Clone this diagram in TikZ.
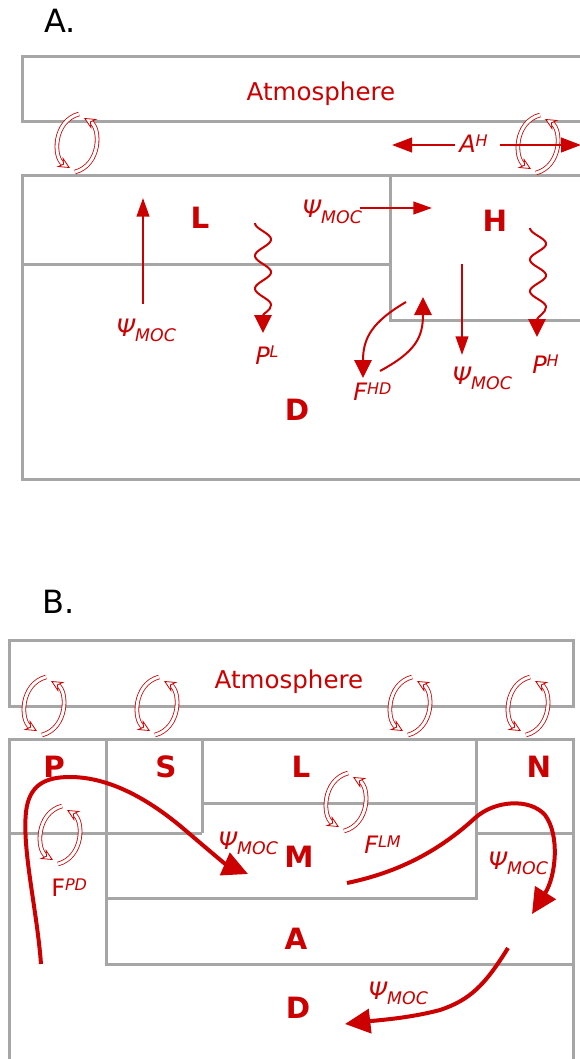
\documentclass[tikz,border=0pt]{standalone}
\usepackage{fontspec}
\setmainfont{DejaVu Sans}
\usetikzlibrary{arrows.meta}
\definecolor{dred}{RGB}{204,0,0}
\definecolor{lgray}{RGB}{166,166,166}
\newcommand{\fs}[1]{\fontsize{#1}{#1}\selectfont}
\newcommand{\PsiMOC}{{\itshape\fs{18pt}Ψ\raisebox{-3.8pt}{\fs{13pt}MOC}}}
\newcommand{\SupLab}[3]{{\fs{18pt}#1\raisebox{#3}{\itshape\fs{12pt}#2}}}
\tikzset{
  box/.style={draw=lgray, line width=2.25pt},
  lbl/.style={text=dred, inner sep=0pt},
  big/.style={lbl, font=\bfseries\fs{22pt}},
  panel/.style={inner sep=0pt, font=\fs{24pt}},
  arrS/.style={draw=dred, line width=1.5pt, -{Triangle[length=14pt,width=9.5pt]}},
  arrW/.style={draw=dred, line width=1.5pt, -{Triangle[length=13.5pt,width=13pt]}},
  arrA/.style={draw=dred, line width=1.5pt, -{Triangle[length=15pt,width=11pt]}},
  arrT/.style={draw=dred, line width=3pt, -{Triangle[length=19pt,width=18pt]}},
  exarc/.style={draw=dred, line width=0.6pt, double=white, double distance=2.2pt,
     -{Stealth[open, fill=white, length=9pt, width=8.5pt, inset=3pt]}},
  exch/.pic={
    \draw[exarc] (2,-29) .. controls (-24,-22) and (-24,15) .. (-7,25);
    \draw[exarc] (-2,29) .. controls (24,22) and (24,-15) .. (7,-25);
  }
}
\begin{document}
\begin{tikzpicture}[x=0.75pt, y=-0.75pt]
\useasboundingbox (0,0) rectangle (580,1059);

% ================= Panel A =================
\node[panel, anchor=base west] (labA) at (44,33) {A.};
\draw[box] (22,57) rectangle (620,122);
\node[lbl, font=\fs{18.4pt}, anchor=base] (atmA) at (321,101) {Atmosphere};
\draw[box] (22,176) rectangle (620,479);
\draw[box] (22,264) -- (390,264);
\draw[box] (390,176) -- (390,320) -- (620,320);

\pic at (77,143) {exch};
\pic at (538,144) {exch};

% A^H
\node[lbl, anchor=base west, font=\itshape] (AH) at (459,153) {\SupLab{A}{H}{5pt}};
\coordinate (ahL0) at (455,145);
\coordinate (ahL) at (392,145);
\coordinate (ahR0) at (500,145);
\coordinate (ahR) at (581,145);
\draw[arrA] (ahL0) -- (ahL);
\draw[arrA] (ahR0) -- (ahR);

\node[big] (L) at (200,218) {L};
\node[big] (H) at (495,221) {H};
\node[big] (D) at (297,410) {D};

% Psi up
\node[lbl, anchor=base west] (psi1) at (116,336) {\PsiMOC};
\coordinate (u0) at (143,304);
\coordinate (u1) at (143,198);
\draw[arrS] (u0) -- (u1);

% Psi right
\node[lbl, anchor=base west] (psi2) at (302,218) {\PsiMOC};
\coordinate (r0) at (360,208);
\coordinate (r1) at (432,208);
\draw[arrS] (r0) -- (r1);

% Psi down
\node[lbl, anchor=base west] (psi3) at (452,384) {\PsiMOC};
\coordinate (d0) at (462,264);
\coordinate (d1) at (462,355);
\draw[arrS] (d0) -- (d1);

% P^L wavy
\node[lbl, anchor=base west, font=\itshape] (PL) at (255,364) {\SupLab{P}{L}{5pt}};
\draw[arrW] plot[domain=0:5, samples=90, variable=\t] ({263-8*cos(\t*180)}, {223+16.4*\t})
   .. controls (271,311) and (263,313) .. (263,333);

% P^H wavy
\node[lbl, anchor=base west, font=\itshape] (PH) at (532,373) {\SupLab{P}{H}{5pt}};
\draw[arrW] plot[domain=0:5, samples=90, variable=\t] ({538-8*cos(\t*180)}, {228+15.8*\t})
   .. controls (546,313) and (537,317) .. (537,337);

% F^HD
\node[lbl, anchor=base west, font=\itshape] (FHD) at (353,400) {\SupLab{F}{HD}{4pt}};
\coordinate (f1a) at (406,302);
\coordinate (f1b) at (363,378);
\coordinate (f2a) at (380,371);
\coordinate (f2b) at (423,297);
\draw[arrW] (f1a) .. controls (372,322) and (363,338) .. (f1b);
\draw[arrW] (f2a) .. controls (415,352) and (423,338) .. (f2b);

% ================= Panel B =================
\node[panel, anchor=base west] (labB) at (42,613) {B.};
\draw[box] (9,640) rectangle (573,706);
\node[lbl, font=\fs{18.4pt}, anchor=base] (atmB) at (289,688) {Atmosphere};
\draw[box] (9,1080) -- (9,739) -- (573,739) -- (573,1080);
\draw[box] (106,739) -- (106,964) -- (573,964);
\draw[box] (9,833) -- (202,833);
\draw[box] (202,739) -- (202,833);
\draw[box] (202,803) -- (476,803);
\draw[box] (476,739) -- (476,898) -- (106,898);
\draw[box] (476,833) -- (573,833);

\pic at (44,706) {exch};
\pic at (157,706) {exch};
\pic at (410,706) {exch};
\pic at (528,706) {exch};
\pic at (346,802) {exch};
\pic at (60,835) {exch};

\node[big] (P) at (54,767) {P};
\node[big] (S) at (166,767) {S};
\node[big] (LB) at (301,767) {L};
\node[big] (N) at (539,767) {N};
\node[big] (M) at (299,857) {M};
\node[big] (AB) at (296,939) {A};
\node[big] (DB) at (298,1008) {D};

\node[lbl, anchor=base west] (psiB1) at (218,849) {\PsiMOC};
\node[lbl, anchor=base west] (psiB2) at (488,869) {\PsiMOC};
\node[lbl, anchor=base west] (psiB3) at (368,999) {\PsiMOC};
\node[lbl, anchor=base west, font=\itshape] (FLM) at (364,853) {\SupLab{F}{LM}{4.5pt}};
\node[lbl, anchor=base west] (FPD) at (51,896) {\SupLab{F}{PD}{4.5pt}};

% thick circulation
\coordinate (c1s) at (41,964);
\coordinate (c1e) at (248,874);
\draw[arrT] (c1s) .. controls (37,910) and (22,850) .. (26,812)
  .. controls (29,785) and (45,777) .. (70,777)
  .. controls (110,777) and (150,800) .. (185,830)
  .. controls (205,847) and (225,864) .. (c1e);

\coordinate (c2s) at (347,883);
\coordinate (c2e) at (532,914);
\draw[arrT] (c2s) .. controls (400,872) and (440,850) .. (475,818)
  .. controls (495,800) and (530,798) .. (545,815)
  .. controls (560,835) and (556,876) .. (c2e);

\coordinate (c3s) at (508,948);
\coordinate (c3e) at (345,1024);
\draw[arrT] (c3s) .. controls (485,985) and (470,1000) .. (440,1010)
  .. controls (410,1018) and (380,1020) .. (c3e);
\end{tikzpicture}
\end{document}
